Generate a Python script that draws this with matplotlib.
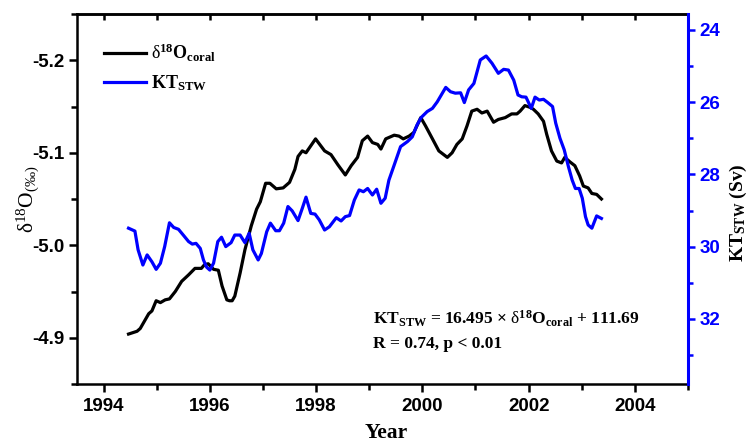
import numpy as np
import matplotlib
matplotlib.use('Agg')
import matplotlib.pyplot as plt
from matplotlib.ticker import MultipleLocator

# fonts: Times-like serif for labels, Arial-like sans for tick numbers
plt.rcParams['mathtext.fontset'] = 'custom'
plt.rcParams['mathtext.rm'] = 'Liberation Serif'
plt.rcParams['mathtext.it'] = 'Liberation Serif:italic'
plt.rcParams['mathtext.bf'] = 'Liberation Serif:bold'
plt.rcParams['font.family'] = ['Liberation Sans', 'DejaVu Sans']

# coral d18O record (per mil)
coral_year = [1994.47, 1994.63, 1994.69, 1994.79, 1994.85, 1994.91, 1994.99, 1995.07,
              1995.16, 1995.24, 1995.35, 1995.47, 1995.60, 1995.72, 1995.84, 1995.90,
              1995.97, 1996.07, 1996.16, 1996.23, 1996.32, 1996.37, 1996.42, 1996.47,
              1996.57, 1996.66, 1996.78, 1996.88, 1996.95, 1997.05, 1997.13, 1997.25,
              1997.38, 1997.50, 1997.60, 1997.66, 1997.74, 1997.81, 1997.99, 1998.16,
              1998.28, 1998.41, 1998.55, 1998.66, 1998.78, 1998.87, 1998.97, 1999.06,
              1999.16, 1999.22, 1999.31, 1999.47, 1999.56, 1999.64, 1999.75, 1999.84,
              1999.97, 2000.06, 2000.19, 2000.31, 2000.47, 2000.56, 2000.65, 2000.75,
              2000.84, 2000.93, 2001.03, 2001.12, 2001.22, 2001.34, 2001.43, 2001.56,
              2001.68, 2001.78, 2001.84, 2001.93, 2002.03, 2002.09, 2002.18, 2002.28,
              2002.34, 2002.43, 2002.53, 2002.62, 2002.68, 2002.78, 2002.87, 2002.96,
              2003.03, 2003.12, 2003.19, 2003.28, 2003.37]
coral_d18o = [-4.904, -4.907, -4.910, -4.920, -4.926, -4.929, -4.940, -4.938,
              -4.941, -4.942, -4.950, -4.961, -4.968, -4.975, -4.975, -4.979,
              -4.980, -4.974, -4.973, -4.956, -4.941, -4.940, -4.940, -4.945,
              -4.970, -4.995, -5.021, -5.039, -5.047, -5.067, -5.067, -5.061,
              -5.062, -5.068, -5.082, -5.096, -5.102, -5.100, -5.115, -5.102,
              -5.098, -5.087, -5.076, -5.086, -5.095, -5.113, -5.118, -5.111,
              -5.109, -5.104, -5.115, -5.119, -5.118, -5.115, -5.118, -5.122,
              -5.138, -5.129, -5.115, -5.102, -5.095, -5.100, -5.109, -5.115,
              -5.129, -5.145, -5.147, -5.143, -5.145, -5.133, -5.136, -5.138,
              -5.142, -5.142, -5.145, -5.151, -5.149, -5.147, -5.142, -5.134,
              -5.120, -5.102, -5.091, -5.089, -5.095, -5.090, -5.086, -5.075,
              -5.064, -5.062, -5.056, -5.055, -5.050]

# Kuroshio transport through the STW (Sv)
kt_year = [1994.47, 1994.59, 1994.65, 1994.74, 1994.82, 1994.91, 1994.99, 1995.07,
           1995.15, 1995.24, 1995.32, 1995.41, 1995.50, 1995.60, 1995.67, 1995.74,
           1995.82, 1995.88, 1995.94, 1996.00, 1996.07, 1996.15, 1996.22, 1996.30,
           1996.40, 1996.47, 1996.57, 1996.66, 1996.74, 1996.81, 1996.91, 1996.97,
           1997.07, 1997.14, 1997.24, 1997.31, 1997.39, 1997.47, 1997.55, 1997.66,
           1997.74, 1997.81, 1997.90, 1997.98, 1998.06, 1998.16, 1998.25, 1998.38,
           1998.47, 1998.55, 1998.63, 1998.72, 1998.81, 1998.89, 1998.97, 1999.06,
           1999.14, 1999.22, 1999.30, 1999.37, 1999.47, 1999.59, 1999.72, 1999.81,
           1999.90, 1999.98, 2000.09, 2000.19, 2000.28, 2000.44, 2000.53, 2000.62,
           2000.72, 2000.79, 2000.87, 2000.97, 2001.09, 2001.20, 2001.31, 2001.43,
           2001.53, 2001.62, 2001.72, 2001.80, 2001.87, 2001.95, 2002.05, 2002.12,
           2002.20, 2002.28, 2002.36, 2002.45, 2002.51, 2002.59, 2002.67, 2002.75,
           2002.82, 2002.88, 2002.95, 2003.01, 2003.07, 2003.12, 2003.19, 2003.28,
           2003.37]
kt_stw = [29.49, 29.57, 30.09, 30.51, 30.23, 30.42, 30.63, 30.46,
          30.00, 29.34, 29.47, 29.52, 29.68, 29.86, 29.93, 29.91,
          30.05, 30.37, 30.57, 30.65, 30.46, 29.86, 29.74, 30.00,
          29.89, 29.68, 29.68, 29.89, 29.63, 30.09, 30.37, 30.19,
          29.59, 29.35, 29.56, 29.56, 29.35, 28.89, 29.01, 29.28,
          28.94, 28.63, 29.08, 29.10, 29.26, 29.54, 29.45, 29.20,
          29.29, 29.17, 29.14, 28.71, 28.43, 28.48, 28.39, 28.57,
          28.41, 28.80, 28.66, 28.16, 27.74, 27.23, 27.09, 26.96,
          26.63, 26.42, 26.26, 26.17, 25.99, 25.59, 25.71, 25.75,
          25.74, 26.01, 25.66, 25.48, 24.83, 24.72, 24.92, 25.20,
          25.09, 25.11, 25.39, 25.80, 25.85, 25.86, 26.17, 25.86,
          25.94, 25.92, 26.01, 26.12, 26.58, 27.00, 27.32, 27.79,
          28.16, 28.39, 28.39, 28.66, 29.17, 29.40, 29.49, 29.15,
          29.22]

fig = plt.figure(figsize=(7.49, 4.46), dpi=100)
ax = fig.add_axes([0.1028, 0.139, 0.8158, 0.8296])

l1, = ax.plot(coral_year, coral_d18o, color='black', lw=2.3,
              label=r'$\mathrm{\delta}^{\mathbf{18}}\mathbf{O}_{\mathbf{coral}}$')
ax.set_xlim(1993.5, 2005)
ax.set_ylim(-4.85, -5.25)
ax.xaxis.set_major_locator(MultipleLocator(2))
ax.xaxis.set_minor_locator(MultipleLocator(1))
ax.yaxis.set_major_locator(MultipleLocator(0.1))
ax.yaxis.set_minor_locator(MultipleLocator(0.05))
ax.yaxis.set_major_formatter(plt.FuncFormatter(lambda v, p: '%.1f' % v))

ax2 = ax.twinx()
l2, = ax2.plot(kt_year, kt_stw, color='#0000ff', lw=2.3,
               label=r'$\mathbf{KT}_{\mathbf{STW}}$')
ax2.set_ylim(33.806, 23.557)
ax2.yaxis.set_major_locator(MultipleLocator(2))
ax2.yaxis.set_minor_locator(MultipleLocator(1))

# spines
for s in ['left', 'bottom', 'top']:
    ax.spines[s].set_linewidth(1.8)
ax.spines['right'].set_visible(False)
for s in ['left', 'bottom', 'top']:
    ax2.spines[s].set_visible(False)
ax2.spines['right'].set_color('#0000ff')
ax2.spines['right'].set_linewidth(2.2)

ax.tick_params(axis='x', which='major', direction='out', length=6, width=1.8,
               labelsize=13.5, pad=4)
ax.tick_params(axis='x', which='minor', direction='out', length=4, width=1.8)
ax.tick_params(axis='y', which='major', direction='out', length=6, width=1.8,
               labelsize=13.5, pad=3, right=False)
ax.tick_params(axis='y', which='minor', direction='out', length=4, width=1.8, right=False)
ax2.tick_params(axis='y', which='major', direction='out', length=5, width=1.8,
                labelsize=13.5, colors='#0000ff', pad=3)
ax2.tick_params(axis='y', which='minor', direction='out', length=3.5, width=1.8,
                colors='#0000ff')

top = ax.secondary_xaxis('top')
top.xaxis.set_major_locator(MultipleLocator(1))
top.tick_params(direction='in', length=4, width=1.8, labeltop=False)
top.spines['top'].set_linewidth(1.8)

plt.setp(ax.get_xticklabels(), fontweight='bold')
plt.setp(ax.get_yticklabels(), fontweight='bold')
plt.setp(ax2.get_yticklabels(), fontweight='bold')

# axis titles
ax.set_xlabel('Year', family='Liberation Serif', fontweight='bold', fontsize=15.5)
ax.xaxis.set_label_coords(0.506, -0.106)
ax.set_ylabel(r'$\mathrm{\delta^{18}O}_{\mathrm{(‰)}}$', fontsize=15.5)
ax.yaxis.set_label_coords(-0.08, 0.5)
ax.yaxis.label.set_va('center')
ax2.set_ylabel(r'$\mathbf{KT}_{\mathbf{STW}}\ \mathbf{(Sv)}$', fontsize=14, color='black')
ax2.yaxis.set_label_coords(1.082, 0.462)
ax2.yaxis.label.set_va('center')

leg = ax2.legend(handles=[l1, l2], loc='upper left', bbox_to_anchor=(0.045, 0.925),
                 frameon=False, fontsize=13, handlelength=2.3, handletextpad=0.3,
                 labelspacing=0.55, borderaxespad=0, borderpad=0)

ax2.text(0.4845, 0.176,
         r'$\mathbf{KT}_{\mathbf{STW}}$ = 16.495 × $\mathrm{\delta}^{\mathbf{18}}\mathbf{O}_{\mathbf{coral}}$ + 111.69',
         transform=ax.transAxes, family='Liberation Serif', fontweight='bold',
         fontsize=12.5, va='center', ha='left')
ax2.text(0.4845, 0.108, 'R = 0.74, p < 0.01', transform=ax.transAxes,
         family='Liberation Serif', fontweight='bold', fontsize=12.5,
         va='center', ha='left')

fig.savefig('out.png', dpi=100)
